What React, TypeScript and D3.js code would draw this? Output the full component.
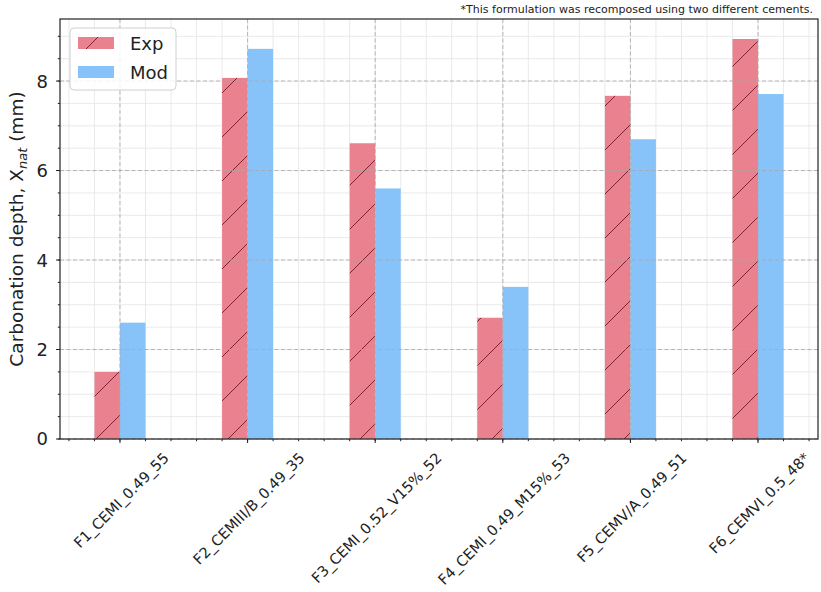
import React, { useEffect, useRef } from "react";
import * as d3 from "d3";

const categories = [
  "F1_CEMI_0.49_55",
  "F2_CEMIII/B_0.49_35",
  "F3_CEMI_0.52_V15%_52",
  "F4_CEMI_0.49_M15%_53",
  "F5_CEMV/A_0.49_51",
  "F6_CEMVI_0.5_48*",
];
const expValues = [1.5, 8.07, 6.61, 2.71, 7.67, 8.94];
const modValues = [2.6, 8.72, 5.6, 3.4, 6.7, 7.71];
const yTicks = [0, 2, 4, 6, 8];
const seriesNames = ["Exp", "Mod"];
const note = "*This formulation was recomposed using two different cements.";

const W = 821;
const H = 592;
const M = { left: 60, right: 818, top: 19, bottom: 439 };
const FONT = "DejaVu Sans, sans-serif";
const EXP_FILL = "#e9818f";
const MOD_FILL = "#87c3f9";
const HATCH = "#7d2433";

export default function App() {
  const ref = useRef<SVGSVGElement>(null);

  useEffect(() => {
    const svg = d3.select(ref.current!);
    svg.selectAll("*").remove();

    const x = d3.scaleLinear().domain([-0.47, categories.length - 1 + 0.47]).range([M.left, M.right]);
    const ymax = d3.max(expValues.concat(modValues))! * 1.05;
    const y = d3.scaleLinear().domain([0, ymax]).range([M.bottom, M.top]);
    const barW = 0.2;

    const defs = svg.append("defs");
    const pat = defs
      .append("pattern")
      .attr("id", "hatch")
      .attr("patternUnits", "userSpaceOnUse")
      .attr("x", 7)
      .attr("y", 0)
      .attr("width", 44)
      .attr("height", 44);
    pat.append("rect").attr("width", 44).attr("height", 44).attr("fill", EXP_FILL);
    [
      [0, 44, 44, 0],
      [-2, 2, 2, -2],
      [42, 46, 46, 42],
    ].forEach(([x1, y1, x2, y2]) =>
      pat.append("line").attr("x1", x1).attr("y1", y1).attr("x2", x2).attr("y2", y2)
        .attr("stroke", HATCH).attr("stroke-width", 1)
    );
    const patL = defs
      .append("pattern")
      .attr("id", "hatchL")
      .attr("patternUnits", "userSpaceOnUse")
      .attr("x", 3)
      .attr("y", 0)
      .attr("width", 44)
      .attr("height", 44);
    patL.append("rect").attr("width", 44).attr("height", 44).attr("fill", EXP_FILL);
    patL.append("line").attr("x1", 0).attr("y1", 44).attr("x2", 44).attr("y2", 0)
      .attr("stroke", HATCH).attr("stroke-width", 1);

    svg.append("rect").attr("width", W).attr("height", H).attr("fill", "#fff");

    // minor grid
    const xMinor = d3.range(-2, (categories.length - 1) * 5 + 3).map((i) => i * 0.2);
    const yMinor = d3.range(0, Math.floor(ymax * 2) + 1).map((i) => i * 0.5);
    const g = svg.append("g");
    xMinor.forEach((v) =>
      g.append("line").attr("x1", x(v)).attr("x2", x(v)).attr("y1", M.top).attr("y2", M.bottom)
        .attr("stroke", "#e4e4e4").attr("stroke-width", 0.8)
    );
    yMinor.forEach((v) =>
      g.append("line").attr("x1", M.left).attr("x2", M.right).attr("y1", y(v)).attr("y2", y(v))
        .attr("stroke", "#e4e4e4").attr("stroke-width", 0.8)
    );

    // bars
    const bars = svg.append("g");
    categories.forEach((_, i) => {
      bars.append("rect")
        .attr("x", x(i - barW)).attr("width", x(i) - x(i - barW))
        .attr("y", y(expValues[i])).attr("height", y(0) - y(expValues[i]))
        .attr("fill", "url(#hatch)");
      bars.append("rect")
        .attr("x", x(i)).attr("width", x(i + barW) - x(i))
        .attr("y", y(modValues[i])).attr("height", y(0) - y(modValues[i]))
        .attr("fill", MOD_FILL);
    });

    // major grid (dashed, over bars)
    const gm = svg.append("g");
    categories.forEach((_, i) =>
      gm.append("line").attr("x1", x(i)).attr("x2", x(i)).attr("y1", M.top).attr("y2", M.bottom)
        .attr("stroke", "#a8a8a8").attr("stroke-width", 1).attr("stroke-dasharray", "4,2.5").attr("opacity", 0.8)
    );
    yTicks.forEach((v) =>
      gm.append("line").attr("x1", M.left).attr("x2", M.right).attr("y1", y(v)).attr("y2", y(v))
        .attr("stroke", "#a8a8a8").attr("stroke-width", 1).attr("stroke-dasharray", "4,2.5").attr("opacity", 0.8)
    );

    // spines
    svg.append("rect").attr("x", M.left).attr("y", M.top).attr("width", M.right - M.left)
      .attr("height", M.bottom - M.top).attr("fill", "none").attr("stroke", "#222").attr("stroke-width", 1.2);

    // ticks
    const tk = svg.append("g").attr("stroke", "#222").attr("stroke-width", 1);
    yTicks.forEach((v) => tk.append("line").attr("x1", M.left - 4).attr("x2", M.left).attr("y1", y(v)).attr("y2", y(v)));
    yMinor.forEach((v) => tk.append("line").attr("x1", M.left - 2.2).attr("x2", M.left).attr("y1", y(v)).attr("y2", y(v)));
    categories.forEach((_, i) => tk.append("line").attr("x1", x(i)).attr("x2", x(i)).attr("y1", M.bottom).attr("y2", M.bottom + 4));
    xMinor.forEach((v) => tk.append("line").attr("x1", x(v)).attr("x2", x(v)).attr("y1", M.bottom).attr("y2", M.bottom + 2.2));

    // y tick labels
    yTicks.forEach((v) =>
      svg.append("text").attr("x", 48).attr("y", y(v)).attr("dy", "0.36em").attr("text-anchor", "end")
        .attr("font-family", FONT).attr("font-size", 18).attr("fill", "#222").text(String(v))
    );

    // x tick labels rotated 45, centered on tick
    const xfs = 14.6;
    categories.forEach((c, i) => {
      const t = svg.append("text").attr("font-family", FONT).attr("font-size", xfs).attr("fill", "#222")
        .attr("text-anchor", "middle").attr("dominant-baseline", "central").text(c);
      const L = (t.node() as SVGTextElement).getComputedTextLength();
      const bboxH = (L + xfs) * Math.SQRT1_2;
      t.attr("transform", `translate(${x(i) + 1},${M.bottom + 11 + bboxH / 2}) rotate(-45)`);
    });

    // y label
    const yl = svg.append("text").attr("font-family", FONT).attr("font-size", 18.5).attr("fill", "#222")
      .attr("text-anchor", "middle")
      .attr("transform", `translate(23,${(M.top + M.bottom) / 2}) rotate(-90)`);
    yl.append("tspan").text("Carbonation depth, X");
    yl.append("tspan").attr("font-style", "italic").attr("font-size", 13).attr("dy", 4).text("nat");
    yl.append("tspan").attr("dy", -4).text(" (mm)");

    // legend
    const lg = svg.append("g");
    lg.append("rect").attr("x", 70).attr("y", 28).attr("width", 106).attr("height", 62).attr("rx", 4)
      .attr("fill", "#fff").attr("fill-opacity", 0.85).attr("stroke", "#d0d0d0");
    lg.append("rect").attr("x", 78).attr("y", 37).attr("width", 36).attr("height", 12).attr("fill", "url(#hatchL)");
    lg.append("rect").attr("x", 78).attr("y", 66).attr("width", 36).attr("height", 12).attr("fill", MOD_FILL);
    seriesNames.forEach((s, i) =>
      lg.append("text").attr("x", 130).attr("y", 50 + i * 29).attr("font-family", FONT).attr("font-size", 18)
        .attr("fill", "#222").text(s)
    );

    // note
    svg.append("text").attr("x", 813).attr("y", 13).attr("text-anchor", "end").attr("font-family", FONT)
      .attr("font-size", 11).attr("fill", "#222").text(note);
  }, []);

  return (
    <svg ref={ref} width={W} height={H} style={{ position: "absolute", left: 0, top: 0, display: "block" }} />
  );
}
